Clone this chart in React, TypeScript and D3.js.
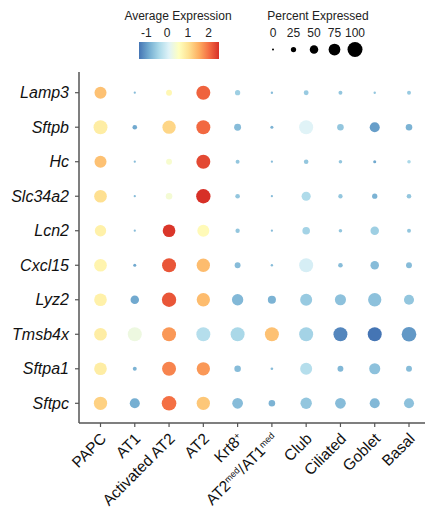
import React from "react";
import * as d3 from "d3";

const genes = ["Lamp3", "Sftpb", "Hc", "Slc34a2", "Lcn2", "Cxcl15", "Lyz2", "Tmsb4x", "Sftpa1", "Sftpc"];
const cellTypes = ["PAPC", "AT1", "Activated AT2", "AT2", "Krt8+", "AT2med/AT1med", "Club", "Ciliated", "Goblet", "Basal"];

// average expression (scaled), rows = genes, columns = cell types
const avgExpression: number[][] = [
  [1.35, -0.7, 0.7, 2.1, -0.5, -0.7, -0.55, -0.6, -0.6, -0.55],
  [0.85, -0.9, 1.15, 2.05, -0.7, -0.8, 0.1, -0.6, -1.0, -0.8],
  [1.35, -0.7, 0.45, 2.3, -0.6, -0.7, -0.6, -0.6, -0.9, -0.4],
  [1.05, -0.7, 0.4, 2.5, -0.6, -0.7, -0.35, -0.6, -0.8, -0.6],
  [0.8, -0.7, 2.45, 0.65, -0.6, -0.7, -0.45, -0.6, -0.5, -0.6],
  [0.75, -0.9, 2.2, 1.4, -0.7, -0.7, 0.0, -0.7, -0.7, -0.7],
  [0.8, -0.9, 2.2, 1.4, -0.75, -0.8, -0.55, -0.65, -0.65, -0.6],
  [0.85, 0.3, 1.7, -0.3, -0.4, 1.35, -0.45, -1.2, -1.4, -1.05],
  [0.85, -0.8, 1.85, 1.7, -0.7, -0.7, -0.3, -0.75, -0.65, -0.7],
  [1.2, -0.85, 2.0, 1.3, -0.7, -0.8, -0.6, -0.7, -0.75, -0.65],
];

// percent expressed, rows = genes, columns = cell types
const pctExpressed: number[][] = [
  [77, 2, 30, 92, 25, 3, 22, 15, 3, 15],
  [92, 20, 87, 92, 38, 8, 92, 35, 62, 35],
  [77, 2, 30, 92, 15, 2, 20, 12, 8, 12],
  [82, 2, 35, 95, 20, 2, 55, 18, 25, 20],
  [72, 2, 82, 77, 18, 2, 43, 12, 50, 15],
  [82, 8, 92, 87, 30, 3, 92, 20, 50, 30],
  [82, 50, 95, 87, 72, 47, 77, 70, 87, 62],
  [82, 92, 92, 92, 92, 92, 92, 92, 92, 97],
  [82, 15, 92, 87, 35, 5, 77, 30, 70, 30],
  [87, 62, 97, 87, 67, 35, 72, 67, 62, 62],
];

const colorTicks = [-1, 0, 1, 2];
const pctTicks = [0, 25, 50, 75, 100];
const paletteColors = ["#4575b4", "#74add1", "#abd9e9", "#e0f3f8", "#ffffbf", "#fee090", "#fdae61", "#f46d43", "#d73027"];
const colorMin = -1.35;
const colorMax = 2.5;

const FONT = "'Liberation Sans', Arial, Helvetica, sans-serif";

function XLabel({ name }: { name: string }) {
  if (name === "Krt8+") {
    return (
      <>
        Krt8<tspan baselineShift="super" fontSize="9">+</tspan>
      </>
    );
  }
  if (name === "AT2med/AT1med") {
    return (
      <>
        AT2<tspan baselineShift="super" fontSize="9">med</tspan>
        <tspan baselineShift="0">/AT1</tspan>
        <tspan baselineShift="super" fontSize="9">med</tspan>
      </>
    );
  }
  return <>{name}</>;
}

export default function App() {
  const W = 425;
  const H = 519;
  const axisX = 79;
  const axisY = 423;
  const axisTop = 72;

  const x = d3.scalePoint<string>().domain(cellTypes).range([100.5, 409]);
  const y = d3.scalePoint<string>().domain(genes).range([92.7, 403.3]);
  const r = d3.scaleLinear().domain([0, 100]).range([1, 7.5]);
  const colorDomain = d3.range(paletteColors.length).map(
    (i) => colorMin + (i * (colorMax - colorMin)) / (paletteColors.length - 1)
  );
  const color = d3.scaleLinear<string>().domain(colorDomain).range(paletteColors).interpolate(d3.interpolateRgb).clamp(true);

  const barX0 = 139;
  const barX1 = 219;
  const barScale = d3.scaleLinear().domain([colorMin, colorMax]).range([barX0, barX1]);
  const pctX = d3.scalePoint<number>().domain(pctTicks).range([273, 355]);

  const axisColor = "#555";

  return (
    <svg width={W} height={H} style={{ position: "absolute", left: 0, top: 0, background: "#fff" }} fontFamily={FONT}>
      <defs>
        <linearGradient id="cbar" x1="0" x2="1" y1="0" y2="0">
          {paletteColors.map((c, i) => (
            <stop key={i} offset={i / (paletteColors.length - 1)} stopColor={c} />
          ))}
        </linearGradient>
      </defs>
      <rect x={0} y={0} width={W} height={H} fill="#fff" />

      {/* Legend: average expression */}
      <text x={178} y={19.5} fontSize={12} textAnchor="middle" fill="#222">Average Expression</text>
      {colorTicks.map((t) => (
        <text key={t} x={barScale(t)} y={37} fontSize={12} textAnchor="middle" fill="#222">{t}</text>
      ))}
      <rect x={barX0} y={42} width={barX1 - barX0} height={17} fill="url(#cbar)" />

      {/* Legend: percent expressed */}
      <text x={318} y={19.5} fontSize={12} textAnchor="middle" fill="#222">Percent Expressed</text>
      {pctTicks.map((p) => (
        <g key={p}>
          <text x={pctX(p)} y={37} fontSize={12} textAnchor="middle" fill="#222">{p}</text>
          <circle cx={pctX(p)} cy={49.5} r={r(p)} fill="#000" />
        </g>
      ))}

      {/* Dots */}
      {genes.map((g, gi) =>
        cellTypes.map((c, ci) => (
          <circle
            key={g + c}
            cx={x(c)}
            cy={y(g)}
            r={r(pctExpressed[gi][ci])}
            fill={color(avgExpression[gi][ci])}
          />
        ))
      )}

      {/* Axes */}
      <line x1={axisX} x2={axisX} y1={axisTop} y2={axisY} stroke={axisColor} strokeWidth={1.5} />
      <line x1={axisX} x2={W} y1={axisY} y2={axisY} stroke={axisColor} strokeWidth={1.5} />
      {genes.map((g) => (
        <g key={g}>
          <line x1={axisX - 4} x2={axisX} y1={y(g)} y2={y(g)} stroke={axisColor} strokeWidth={1.2} />
          <text x={69} y={y(g)} dy="0.35em" fontSize={16} fontStyle="italic" textAnchor="end" fill="#111">{g}</text>
        </g>
      ))}
      {cellTypes.map((c) => (
        <g key={c}>
          <line x1={x(c)} x2={x(c)} y1={axisY} y2={axisY + 4} stroke={axisColor} strokeWidth={1.2} />
          <text
            transform={`translate(${(x(c) as number) - 1},${axisY + 9}) rotate(-45)`}
            fontSize={15.5}
            textAnchor="end"
            dy="0.7em"
            fill="#111"
          >
            <XLabel name={c} />
          </text>
        </g>
      ))}
    </svg>
  );
}
